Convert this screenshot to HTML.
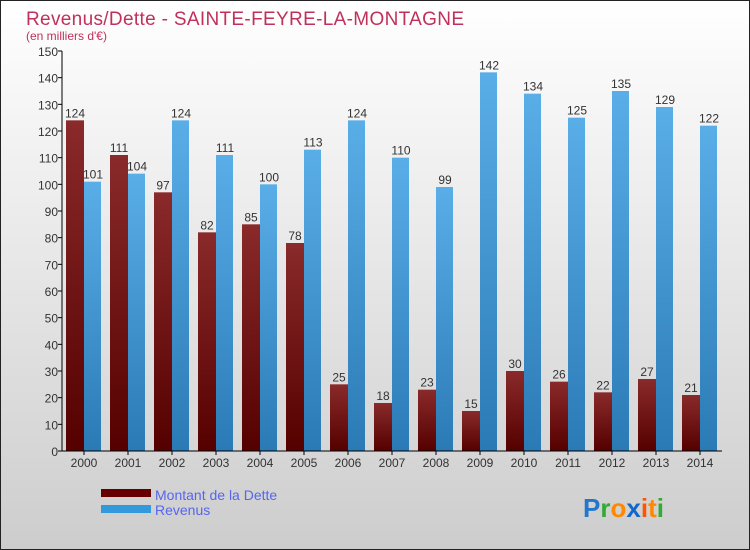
<!DOCTYPE html>
<html><head><meta charset="utf-8"><style>
body{margin:0;}
#c{width:748px;height:548px;border:1px solid #222;background:linear-gradient(#ffffff,#cdcdcd);position:relative;font-family:"Liberation Sans",sans-serif;overflow:hidden}
</style></head><body>
<div id="c">
<svg id="s" width="748" height="548" style="position:absolute;left:0;top:0">
<defs>
<linearGradient id="gd" x1="0" y1="0" x2="0" y2="1"><stop offset="0" stop-color="#8a2a2a"/><stop offset="1" stop-color="#550000"/></linearGradient>
<linearGradient id="gr" x1="0" y1="0" x2="0" y2="1"><stop offset="0" stop-color="#5aaee8"/><stop offset="1" stop-color="#2a7ab5"/></linearGradient>
</defs>
<text x="25" y="24" font-size="19" fill="#c0305a" textLength="438">Revenus/Dette - SAINTE-FEYRE-LA-MONTAGNE</text>
<text x="25" y="39" font-size="12" fill="#c0305a">(en milliers d'€)</text>
<g id="g"></g>
<rect x="100" y="488" width="50" height="8" fill="#660000"/>
<text x="154" y="499" font-size="14" fill="#5566ee">Montant de la Dette</text>
<rect x="100" y="504" width="50" height="8" fill="#3399dd"/>
<text x="154" y="514" font-size="14" fill="#5566ee">Revenus</text>
<text x="582" y="516" font-size="26" font-weight="bold"><tspan fill="#2277cc">P</tspan><tspan fill="#33aa33">r</tspan><tspan fill="#ff8800">o</tspan><tspan fill="#1166cc">x</tspan><tspan fill="#ff5500">i</tspan><tspan fill="#ff8800">t</tspan><tspan fill="#33aa33">i</tspan></text>
</svg>
</div>
<script>
const years=["2000","2001","2002","2003","2004","2005","2006","2007","2008","2009","2010","2011","2012","2013","2014"];
const dette=[124,111,97,82,85,78,25,18,23,15,30,26,22,27,21];
const revenus=[101,104,124,111,100,113,124,110,99,142,134,125,135,129,122];
const yTicks=[0,10,20,30,40,50,60,70,80,90,100,110,120,130,140,150];
const NS="http://www.w3.org/2000/svg";
const g=document.getElementById('g');
const x0=61,x1=721,yb=450,yt=50,yMax=150;
const gw=(x1-x0)/years.length;
function y(v){return yb-(v/yMax)*(yb-yt);}
function el(t,a){const e=document.createElementNS(NS,t);for(const k in a)e.setAttribute(k,a[k]);g.appendChild(e);return e;}
yTicks.forEach(v=>{
  const t=el('line',{x1:x0-4,x2:x0,y1:y(v),y2:y(v),stroke:'#000'});
  
  
  const l=el('text',{x:x0-4,y:y(v)+5,'font-size':12,'text-anchor':'end',fill:'#333'});
  l.textContent=v;
  
  
});
years.forEach((yr,i)=>{
  const gx=x0+i*gw;
  const b1=el('rect',{x:gx+4,y:y(dette[i]),width:18,height:yb-y(dette[i]),fill:'url(#gd)'});
  
  
  const b2=el('rect',{x:gx+22,y:y(revenus[i]),width:17,height:yb-y(revenus[i]),fill:'url(#gr)'});
  
  
  const t1=el('text',{x:gx+13,y:y(dette[i])-3,'font-size':12,'text-anchor':'middle',fill:'#333'});
  t1.textContent=dette[i];
  
  
  const t2=el('text',{x:gx+31,y:y(revenus[i])-3,'font-size':12,'text-anchor':'middle',fill:'#333'});
  t2.textContent=revenus[i];
  
  
  const tk=el('line',{x1:gx+22,x2:gx+22,y1:yb,y2:yb+4,stroke:'#000'});
  
  
  const xl=el('text',{x:gx+22,y:yb+16,'font-size':12,'text-anchor':'middle',fill:'#333'});
  xl.textContent=yr;
  
  
});
const ax=el('line',{x1:x0,x2:x0,y1:yt,y2:yb,stroke:'#000'});


const bx=el('line',{x1:x0,x2:x1,y1:yb,y2:yb,stroke:'#000'});


</script>
</body></html>
